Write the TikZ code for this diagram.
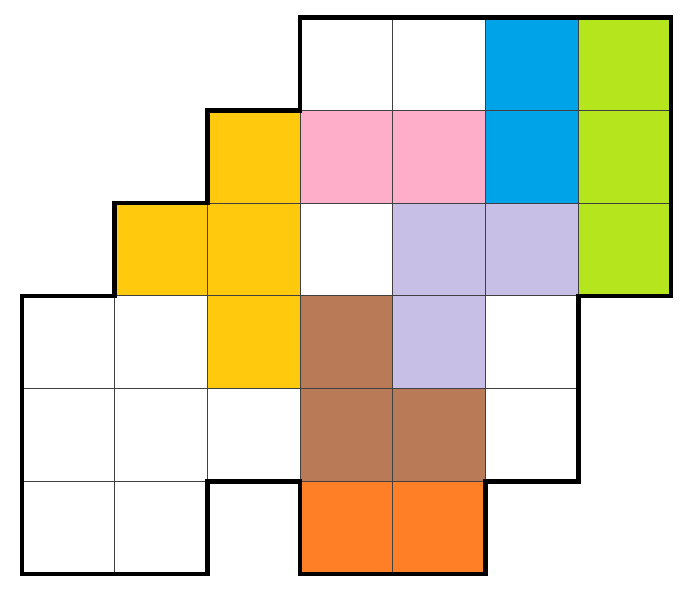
\documentclass[tikz,border=0pt]{standalone}
\usepackage{tikz}

\definecolor{cellblue}{RGB}{0,162,232}
\definecolor{cellgreen}{RGB}{181,230,29}
\definecolor{cellyellow}{RGB}{255,201,14}
\definecolor{cellpink}{RGB}{255,174,201}
\definecolor{celllilac}{RGB}{200,191,231}
\definecolor{cellbrown}{RGB}{185,122,87}
\definecolor{cellorange}{RGB}{255,127,39}

\begin{document}
\begin{tikzpicture}[
    x=1cm, y=1cm,
    cell/.style={draw=black!75, line width=0.3pt, fill=white},
    border/.style={draw=black, line width=1.4pt, line join=miter}
]
\useasboundingbox (-0.237,-0.28) rectangle (7.215,6.19);
% Top row
\draw[cell] (3,5) rectangle ++(1,1);
\draw[cell] (4,5) rectangle ++(1,1);
\draw[cell, fill=cellblue] (5,5) rectangle ++(1,1);
\draw[cell, fill=cellgreen] (6,5) rectangle ++(1,1);
% Second row
\draw[cell, fill=cellyellow] (2,4) rectangle ++(1,1);
\draw[cell, fill=cellpink] (3,4) rectangle ++(1,1);
\draw[cell, fill=cellpink] (4,4) rectangle ++(1,1);
\draw[cell, fill=cellblue] (5,4) rectangle ++(1,1);
\draw[cell, fill=cellgreen] (6,4) rectangle ++(1,1);
% Third row
\draw[cell, fill=cellyellow] (1,3) rectangle ++(1,1);
\draw[cell, fill=cellyellow] (2,3) rectangle ++(1,1);
\draw[cell] (3,3) rectangle ++(1,1);
\draw[cell, fill=celllilac] (4,3) rectangle ++(1,1);
\draw[cell, fill=celllilac] (5,3) rectangle ++(1,1);
\draw[cell, fill=cellgreen] (6,3) rectangle ++(1,1);
% Fourth row
\draw[cell] (0,2) rectangle ++(1,1);
\draw[cell] (1,2) rectangle ++(1,1);
\draw[cell, fill=cellyellow] (2,2) rectangle ++(1,1);
\draw[cell, fill=cellbrown] (3,2) rectangle ++(1,1);
\draw[cell, fill=celllilac] (4,2) rectangle ++(1,1);
\draw[cell] (5,2) rectangle ++(1,1);
% Fifth row
\draw[cell] (0,1) rectangle ++(1,1);
\draw[cell] (1,1) rectangle ++(1,1);
\draw[cell] (2,1) rectangle ++(1,1);
\draw[cell, fill=cellbrown] (3,1) rectangle ++(1,1);
\draw[cell, fill=cellbrown] (4,1) rectangle ++(1,1);
\draw[cell] (5,1) rectangle ++(1,1);
% Bottom row
\draw[cell] (0,0) rectangle ++(1,1);
\draw[cell] (1,0) rectangle ++(1,1);
\draw[cell, fill=cellorange] (3,0) rectangle ++(1,1);
\draw[cell, fill=cellorange] (4,0) rectangle ++(1,1);
% Outline
\draw[border] (3,6) -- (7,6) -- (7,3) -- (6,3) -- (6,1) -- (5,1) -- (5,0)
    -- (3,0) -- (3,1) -- (2,1) -- (2,0) -- (0,0) -- (0,3) -- (1,3)
    -- (1,4) -- (2,4) -- (2,5) -- (3,5) -- cycle;
\end{tikzpicture}
\end{document}
